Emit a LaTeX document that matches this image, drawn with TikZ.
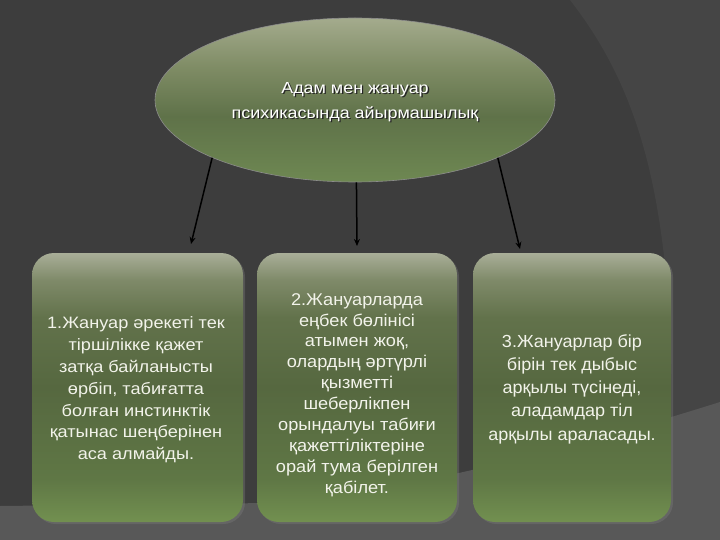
\documentclass[tikz,border=0pt]{standalone}
\usepackage{fontspec}
\setmainfont{Liberation Sans}
\newfontfamily\fontA[FakeStretch=1.10]{Liberation Sans}
\newfontfamily\fontB[FakeStretch=1.07]{Liberation Sans}
\newfontfamily\fontC[FakeStretch=1.03]{Liberation Sans}
\newfontfamily\fontE[FakeStretch=1.12]{Liberation Sans}
\usetikzlibrary{shapes.geometric,arrows.meta,shadows}
\definecolor{bgdark}{HTML}{3D3D3D}
\definecolor{bgright}{HTML}{454545}
\definecolor{bgband}{HTML}{585858}
\definecolor{bxtop}{HTML}{A9AE98}
\definecolor{bxhi}{HTML}{7F8A69}
\definecolor{bxup}{HTML}{62724B}
\definecolor{bxmid}{HTML}{566840}
\definecolor{bxlow}{HTML}{5F7745}
\definecolor{bxbot}{HTML}{729050}
\definecolor{eltop}{HTML}{A4AB8D}
\definecolor{elhi}{HTML}{7F8C65}
\definecolor{elmid}{HTML}{5F7249}
\definecolor{elbot}{HTML}{6E8852}
\definecolor{txtlight}{HTML}{F2F3EA}
\pgfdeclareverticalshading{boxshade}{100bp}{color(0bp)=(bxbot); color(25bp)=(bxbot); color(33bp)=(bxlow); color(50bp)=(bxmid); color(63bp)=(bxup); color(70bp)=(bxhi); color(75bp)=(bxtop); color(100bp)=(bxtop)}
\pgfdeclareverticalshading{ellshade}{100bp}{color(0bp)=(elbot); color(25bp)=(elbot); color(45bp)=(elmid); color(60bp)=(elhi); color(75bp)=(eltop); color(100bp)=(eltop)}
\tikzset{
  boxnode/.style={rounded corners=22pt, shading=boxshade, minimum height=269pt, inner sep=0pt,
    drop shadow={shadow xshift=2pt, shadow yshift=-2pt, opacity=0.35}},
  boxtext/.style={align=center, text=txtlight, inner sep=0pt},
  arr/.style={-{Stealth[length=7pt,width=6pt]}, line width=1.5pt, black},
  eltext/.style={align=center, font=\fontE\fontsize{16}{24.5}\selectfont, inner sep=0pt}
}
\begin{document}
\begin{tikzpicture}[x=1pt,y=-1pt]
\useasboundingbox (0,0) rectangle (720,540);
\fill[bgdark] (0,0) rectangle (720,540);
\fill[bgright] (570,0) .. controls (640,90) and (672,200) .. (672,420) -- (720,420) -- (720,0) -- cycle;
\fill[bgband] (0,506) -- (270,503) .. controls (400,495) and (600,440) .. (720,402) -- (720,540) -- (0,540) -- cycle;
\node[ellipse, minimum width=400pt, minimum height=164pt, shading=ellshade, draw=black!45, line width=0.6pt, inner sep=0pt] (top) at (355,100) {};
\node[eltext, text=black!85] (topshadow) at (356.3,103.3) {Адам мен жануар\\психикасында айырмашылық};
\node[eltext, text=white] (toptext) at (355,102) {Адам мен жануар\\психикасында айырмашылық};
\node[boxnode, minimum width=211pt] (b1) at (137.5,387.5) {};
\node[boxnode, minimum width=200pt] (b2) at (357,387.5) {};
\node[boxnode, minimum width=198pt] (b3) at (572,387.5) {};
\node[boxtext, font=\fontA\fontsize{16.5}{21.8}\selectfont] (t1) at (136,390) {1.Жануар әрекеті тек\\тіршілікке қажет\\затқа байланысты\\өрбіп, табиғатта\\болған инстинктік\\қатынас шеңберінен\\аса алмайды.};
\node[boxtext, font=\fontB\fontsize{17}{20.9}\selectfont] (t2) at (357,395) {2.Жануарларда\\еңбек бөлінісі\\атымен жоқ,\\олардың әртүрлі\\қызметті\\шеберлікпен\\орындалуы табиғи\\қажеттіліктеріне\\орай тума берілген\\қабілет.};
\node[boxtext, font=\fontC\fontsize{17.5}{23.3}\selectfont] (t3) at (572,389) {3.Жануарлар бір\\бірін тек дыбыс\\арқылы түсінеді,\\аладамдар тіл\\арқылы араласады.};
\coordinate (e1) at (191,244);
\coordinate (e2) at (357,246);
\coordinate (e3) at (520,249);
\draw[arr] (top.202) -- (e1);
\draw[arr] (top.271) -- (e2);
\draw[arr] (top.338) -- (e3);
\end{tikzpicture}
\end{document}
